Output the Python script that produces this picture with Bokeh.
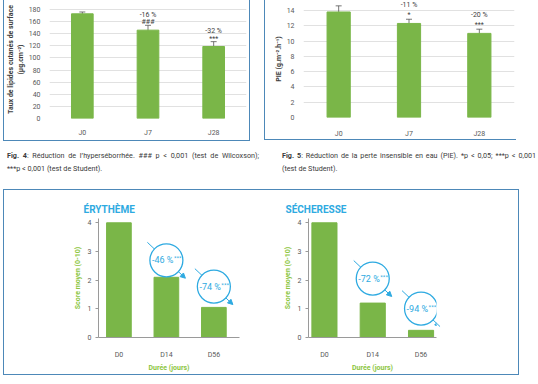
from bokeh.plotting import figure
from bokeh.models import (ColumnDataSource, Whisker, TeeHead, FactorRange, Range1d, FixedTicker,
                          Arrow, NormalHead, Div, Spacer)
from bokeh.layouts import row, column
from bokeh.core.properties import value
from bokeh.embed import file_html
from bokeh.resources import INLINE

# ---------------- data ----------------
days_top = ["J0", "J7", "J28"]
lipids = [173, 146, 119]
lipids_err = [3, 8, 8]
lipids_pct = ["", "-16 %", "-32 %"]
lipids_sig = ["", "###", "***"]
lipids_ticks = [0, 20, 40, 60, 80, 100, 120, 140, 160, 180]

pie = [13.8, 12.3, 11.0]
pie_err = [0.8, 0.55, 0.55]
pie_pct = ["", "-11 %", "-20 %"]
pie_sig = ["", "*", "***"]
pie_ticks = [0, 2, 4, 6, 8, 10, 12, 14]

days_bottom = ["D0", "D14", "D56"]
erythema = [4.0, 2.1, 1.05]
erythema_pct = ["", "-46 %", "-74 %"]
dryness = [4.0, 1.2, 0.25]
dryness_pct = ["", "-72 %", "-94 %"]
bottom_sig = "***"
bottom_ticks = [0, 1, 2, 3, 4]

caption4 = ("<b>Fig. 4</b>: Réduction de l’hyperséborrhée. ### p &lt; 0,001 (test de Wilcoxson);",
            "***p &lt; 0,001 (test de Student).")
caption5 = ("<b>Fig. 5</b>: Réduction de la perte insensible en eau (PIE). *p &lt; 0,05; ***p &lt; 0,001",
            "(test de Student).")

# ---------------- style ----------------
FONT = "Roboto"
GREEN = "#7ab648"
BOX = "#4d88b8"
CYAN = "#2eaae1"
AXIS_GREEN = "#8dc63f"
GRID = "#d9d9d9"
TXT = "#595959"


def top_chart(cats, vals, errs, pct, sig, y_end, ticks, ylabel, w, h, mbl, mbr, mbb,
              pct_dy, sig_dy, xstand, ylab_stand, styles):
    src = ColumnDataSource(dict(cat=cats, val=vals,
                                up=[v + e for v, e in zip(vals, errs)],
                                lo=[v - e for v, e in zip(vals, errs)],
                                pct=pct, sig=sig))
    p = figure(x_range=FactorRange(factors=cats, range_padding=0), y_range=Range1d(0, y_end),
               width=w, height=h, output_backend="svg", toolbar_location=None,
               min_border_left=mbl, min_border_right=mbr, min_border_top=0, min_border_bottom=mbb,
               styles=styles)
    p.outline_line_color = None
    p.vbar(x="cat", top="val", width=0.33, source=src, color=GREEN)
    wk = Whisker(base="cat", upper="up", lower="lo", source=src, line_color="#555555", line_width=0.8,
                 upper_head=TeeHead(size=6, line_color="#555555", line_width=0.8),
                 lower_head=TeeHead(size=6, line_color="#555555", line_width=0.8))
    p.add_layout(wk)
    p.text(x="cat", y="up", text="pct", source=src, text_align="center", text_baseline="middle",
           y_offset=pct_dy, text_font=value(FONT), text_font_size="7px", text_color="#404040")
    p.text(x="cat", y="up", text="sig", source=src, text_align="center", text_baseline="middle",
           y_offset=sig_dy, text_font=value(FONT), text_font_size="7px", text_color="#404040")
    p.xgrid.visible = False
    p.ygrid.grid_line_color = GRID
    p.ygrid.grid_line_width = 0.8
    p.yaxis.ticker = FixedTicker(ticks=ticks)
    for ax in (p.xaxis, p.yaxis):
        ax.axis_line_color = None
        ax.major_tick_line_color = None
        ax.minor_tick_line_color = None
        ax.major_label_text_font = FONT
        ax.major_label_text_font_size = "7px"
        ax.major_label_text_color = TXT
    p.yaxis.major_label_standoff = 3
    p.xaxis.major_label_standoff = xstand
    p.yaxis.axis_label = ylabel
    p.yaxis.axis_label_text_font = FONT
    p.yaxis.axis_label_text_font_size = "7px"
    p.yaxis.axis_label_text_font_style = "bold"
    p.yaxis.axis_label_text_color = "#404040"
    p.yaxis.axis_label_standoff = ylab_stand
    return p


MBT_B = 28
MBB_B = 30
Y_END_B = 4.15


def bottom_chart(title, vals, pcts, w, h, mbl, mbr, x_start, x_end, title_dx, lifts):
    xs = list(range(len(days_bottom)))
    p = figure(width=w, height=h, x_range=Range1d(x_start, x_end), y_range=Range1d(0, Y_END_B),
               output_backend="svg", toolbar_location=None, title=title,
               min_border_left=mbl, min_border_right=mbr, min_border_top=MBT_B, min_border_bottom=MBB_B)
    p.title.align = "left"
    p.title.offset = title_dx
    p.title.standoff = 8
    p.title.text_font = FONT
    p.title.text_font_size = "10px"
    p.title.text_font_style = "bold"
    p.title.text_color = CYAN
    p.outline_line_color = None
    p.grid.visible = False
    p.vbar(x=xs, top=vals, width=0.52, color=GREEN)

    fw = w - mbl - mbr
    fh = h - MBT_B - MBB_B
    xppu = fw / (x_end - x_start)
    yppu = fh / Y_END_B

    cx, cy, main, sup = [], [], [], []
    for i, (v, t) in enumerate(zip(vals, pcts)):
        if not t:
            continue
        c_y = v + lifts[i] / yppu
        cx.append(xs[i]); cy.append(c_y); main.append(t); sup.append(bottom_sig)
        d = 19
        arr = Arrow(x_start=xs[i] - d / xppu, y_start=c_y + d / yppu,
                    x_end=xs[i] + d / xppu, y_end=c_y - d / yppu,
                    start=None, end=NormalHead(size=5, fill_color=CYAN, line_color=CYAN, line_width=1),
                    line_color=CYAN, line_width=1, level="underlay")
        p.add_layout(arr)
    p.scatter(x=cx, y=cy, marker="circle", size=33, fill_color="white", line_color=CYAN, line_width=1.3)
    p.text(x=cx, y=cy, text=main, text_align="right", text_baseline="middle", x_offset=7,
           text_font=value(FONT), text_font_size="9px", text_color=CYAN)
    p.text(x=cx, y=cy, text=sup, text_align="left", text_baseline="middle", x_offset=7.5, y_offset=-2.5,
           text_font=value(FONT), text_font_size="6px", text_color=CYAN)

    p.xaxis.ticker = FixedTicker(ticks=xs)
    p.xaxis.major_label_overrides = {i: d for i, d in zip(xs, days_bottom)}
    p.yaxis.ticker = FixedTicker(ticks=bottom_ticks)
    for ax in (p.xaxis, p.yaxis):
        ax.axis_line_color = "#9a9a9a"
        ax.axis_line_width = 1
        ax.minor_tick_line_color = None
        ax.major_label_text_font = FONT
        ax.major_label_text_font_size = "7px"
        ax.major_label_text_color = TXT
        ax.axis_label_text_font = FONT
        ax.axis_label_text_font_size = "7px"
        ax.axis_label_text_font_style = "bold"
        ax.axis_label_text_color = AXIS_GREEN
    p.xaxis.major_tick_line_color = None
    p.yaxis.major_tick_line_color = "#9a9a9a"
    p.yaxis.major_tick_in = 0
    p.yaxis.major_tick_out = 3
    p.xaxis.major_label_standoff = 7
    p.yaxis.major_label_standoff = 4
    p.xaxis.axis_label = "Durée (jours)"
    p.yaxis.axis_label = "Score moyen (0-10)"
    p.xaxis.axis_label_standoff = 2
    p.yaxis.axis_label_standoff = 3
    return p


def cap_div(lines, width):
    html = (f'<div style="display:block;width:{width}px;font-family:Roboto,sans-serif;font-size:7.2px;'
            'line-height:13.4px;color:#3a3a3a;padding-top:3px;">'
            f'<div style="display:block;width:{width}px;text-align:justify;text-align-last:justify;">{lines[0]}</div>'
            f'<div style="display:block;width:{width}px;">{lines[1]}</div></div>')
    return Div(text=html, width=width, height=38)


border_top = {"border-left": f"1.5px solid {BOX}", "border-right": f"1.5px solid {BOX}",
              "border-bottom": f"1.5px solid {BOX}"}
border_top_r = {"border-left": f"1.5px solid {BOX}", "border-bottom": f"1.5px solid {BOX}"}

fig4 = top_chart(days_top, lipids, lipids_err, lipids_pct, lipids_sig, 195, lipids_ticks,
                 "Taux de lipides cutanés de surface\n(µg.cm⁻²)", 247, 141, 38, 5, 16,
                 -10.5, -3, 4, 1, border_top)
fig5 = top_chart(days_top, pie, pie_err, pie_pct, pie_sig, 15.3, pie_ticks,
                 "PIE (g.m⁻².h⁻¹)", 252, 140, 38, 3, 19,
                 -14, -4, 6, 1, border_top_r)

# circle lift above bar top, in pixels (index-aligned with the days; first unused)
figE = bottom_chart("ÉRYTHÈME", erythema, erythema_pct, 258, 184, 94, 23, -0.43, 2.54, -15, [0, 18, 22])
figS = bottom_chart("SÉCHERESSE", dryness, dryness_pct, 256, 184, 46, 82, -0.33, 2.32, -23, [0, 26, 23])

top_row = row(Spacer(width=3), fig4, Spacer(width=14), fig5)
cap_row = row(Spacer(width=2), cap_div(caption4, 252), Spacer(width=13), cap_div(caption5, 254))
bottom_box = row(figE, figS, styles={"border": f"1.5px solid {BOX}"})
bottom_row = row(Spacer(width=3), bottom_box)

layout = column(top_row, cap_row, bottom_row)

open("out.html", "w").write(file_html(layout, INLINE))
